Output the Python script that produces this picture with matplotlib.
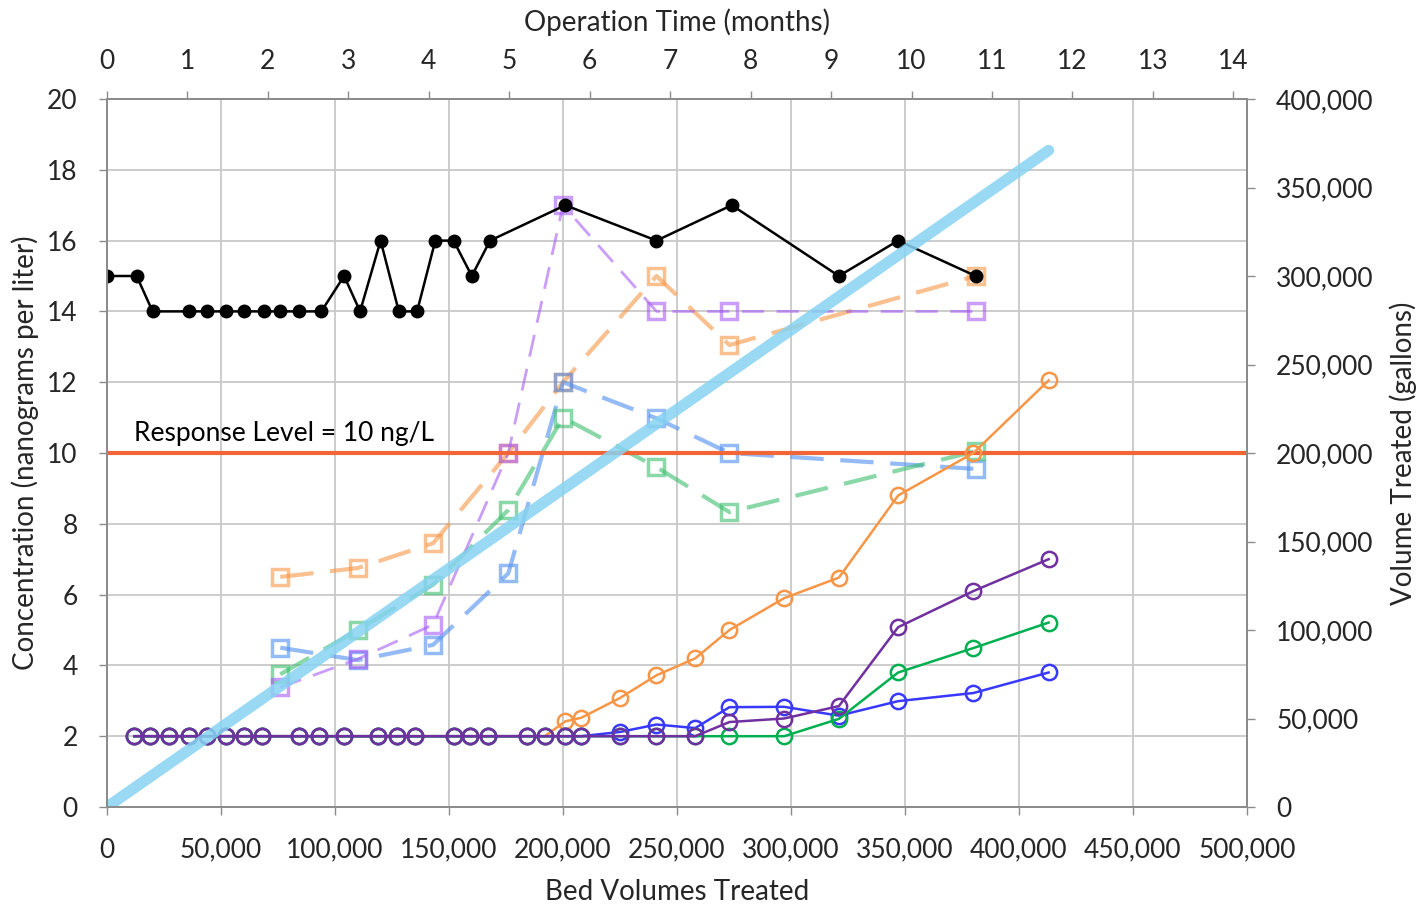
import numpy as np
import matplotlib
matplotlib.use("Agg")
import matplotlib.pyplot as plt
from matplotlib.ticker import FuncFormatter, MultipleLocator

plt.rcParams['font.family'] = ['Lato', 'DejaVu Sans']

# influent (black)
inf_x = [0, 13, 20, 36, 44, 52, 60, 69, 76, 84, 94, 104, 111, 120, 128, 136,
         144, 152, 160, 168, 201, 241, 274, 321, 347, 381]
inf_y = [15, 15, 14, 14, 14, 14, 14, 14, 14, 14, 14, 15, 14, 16, 14, 14,
         16, 16, 15, 16, 17, 16, 17, 15, 16, 15]

# effluent series (open circles, solid lines)
eff_x = [12, 19, 27, 36, 44, 52, 60, 68, 84, 93, 104, 119, 127, 135, 152, 159,
         167, 184, 192, 201, 208, 225, 241, 258, 273, 297, 321, 347, 380, 413]
eff_orange = [2] * 19 + [2.42, 2.52, 3.08, 3.72, 4.2, 5.0, 5.9, 6.48, 8.8, 10.0, 12.05]
eff_blue = [2] * 21 + [2.12, 2.33, 2.23, 2.82, 2.83, 2.58, 2.99, 3.22, 3.8]
eff_green = [2] * 26 + [2.49, 3.8, 4.49, 5.21]
eff_purple = [2] * 24 + [2.4, 2.5, 2.85, 5.08, 6.1, 7.0]

# mid-bed series (open squares, dashed lines)
mid_x = [76, 110, 143, 176, 200, 241, 273, 381]
mid_orange = [6.5, 6.75, 7.45, 10.0, 12.0, 15.0, 13.05, 15.0]
mid_purple = [3.38, 4.18, 5.15, 10.0, 17.0, 14.0, 14.0, 14.0]
mid_blue = [4.5, 4.15, 4.58, 6.6, 12.0, 10.98, 10.0, 9.55]
mid_green = [3.75, 5.0, 6.28, 8.39, 11.0, 9.6, 8.33, 10.05]

# volume treated (right axis)
vol_x = [0, 413]
vol_y = [0, 371000]

response_level = 10
months = list(range(15))

fig = plt.figure(figsize=(14.21, 9.06), dpi=100)
ax = fig.add_axes([107 / 1421, (906 - 807) / 906, 1140 / 1421, 708 / 906])

bv = lambda v: np.array(v) * 1000

gray = '#8c8c8c'
txt = '#262626'
tfs = 19
lfs = 20

ax.grid(True, color='#c8c8c8', lw=1.3, zorder=0)
ax.set_axisbelow(True)

dashed = [(mid_orange, '#f79646', 3.0, (8, 4)),
          (mid_blue, '#4f8ff0', 3.0, (8, 4)),
          (mid_green, '#3cbf6e', 3.0, (8, 4)),
          (mid_purple, '#a65cf5', 2.0, (8, 4.5))]
for vals, c, lw, dash in dashed:
    ax.plot(bv(mid_x), vals, color=c, alpha=0.6, lw=lw, dashes=dash,
            marker='s', ms=11, mfc='none', mew=2.5, zorder=3)

ax.axhline(response_level, color='#f26536', lw=3, zorder=4)
ax.text(12000, 10.2, 'Response Level = 10 ng/L', fontsize=tfs, color='black',
        va='bottom', ha='left', zorder=6)

for vals, c in [(eff_orange, '#f79646'), (eff_blue, '#3838ff'),
                (eff_green, '#00b050'), (eff_purple, '#7030a0')]:
    ax.plot(bv(eff_x), vals, color=c, lw=1.8, marker='o', ms=11, mfc='none',
            mew=1.8, zorder=5)

ax.plot(bv(inf_x), inf_y, color='black', lw=1.8, marker='o', ms=9, zorder=7)

ax.set_xlim(0, 500000)
ax.set_ylim(0, 20)
ax.xaxis.set_major_locator(MultipleLocator(50000))
ax.yaxis.set_major_locator(MultipleLocator(2))
ax.xaxis.set_major_formatter(FuncFormatter(lambda v, p: f'{v:,.0f}'))
ax.tick_params(axis='both', direction='out', length=6, width=1, color=gray,
               labelsize=tfs, labelcolor=txt)
ax.tick_params(axis='x', pad=16)
ax.tick_params(axis='y', pad=15)
ax.set_xlabel('Bed Volumes Treated', fontsize=lfs, color=txt, labelpad=12)
ax.set_ylabel('Concentration (nanograms per liter)', fontsize=lfs, color=txt, labelpad=6)

ax2 = ax.twinx()
ax2.plot(bv(vol_x), vol_y, color='#87d3f2', lw=8, alpha=0.85,
         solid_capstyle='round', zorder=2)
ax2.set_ylim(0, 400000)
ax2.yaxis.set_major_locator(MultipleLocator(50000))
ax2.yaxis.set_major_formatter(FuncFormatter(lambda v, p: f'{v:,.0f}'))
ax2.tick_params(axis='y', direction='out', length=6, width=1, color=gray,
                labelsize=tfs, labelcolor=txt, pad=15)
ax2.set_ylabel('Volume Treated (gallons)', fontsize=lfs, color=txt, labelpad=11)

ax3 = ax.twiny()
ax3.set_xlim(0, 14.17)
ax3.set_xticks(months)
ax3.tick_params(axis='x', direction='out', length=6, width=1, color=gray,
                labelsize=tfs, labelcolor=txt, pad=12)
ax3.set_xlabel('Operation Time (months)', fontsize=lfs, color=txt, labelpad=13)

for a in (ax, ax2, ax3):
    for s in a.spines.values():
        s.set_color(gray)
        s.set_linewidth(1.2)

fig.savefig('out.png', dpi=100)
